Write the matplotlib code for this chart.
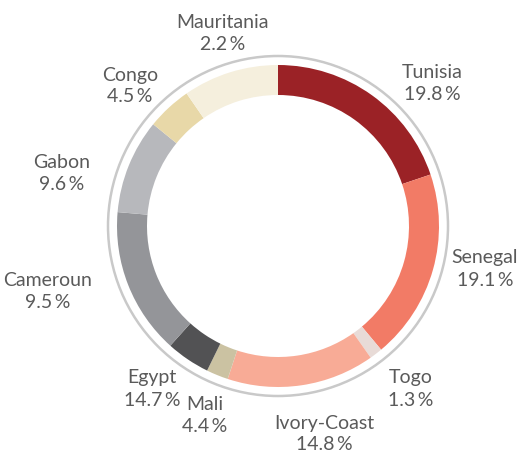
import numpy as np
import matplotlib
matplotlib.use('Agg')
from matplotlib import pyplot as plt
from matplotlib.patches import Circle

# slice sizes, clockwise from 12 o'clock
countries = ['Tunisia', 'Senegal', 'Togo', 'Ivory-Coast', 'Mali', 'Egypt',
             'Cameroun', 'Gabon', 'Congo', 'Mauritania']
shares = [19.8, 19.1, 1.3, 14.8, 2.2, 4.4, 14.7, 9.5, 4.5, 9.6]
colors = ['#9b2226', '#f27b66', '#e8dbd7', '#f8ab96', '#cbc2a2', '#525254',
          '#949599', '#b7b8bc', '#e8d8a8', '#f5efdd']

# label texts as printed on the chart
label_names = ['Mauritania', 'Tunisia', 'Congo', 'Gabon', 'Senegal',
               'Cameroun', 'Egypt', 'Mali', 'Togo', 'Ivory-Coast']
label_pcts = ['2.2\u2009%', '19.8\u2009%', '4.5\u2009%', '9.6\u2009%', '19.1\u2009%',
              '9.5\u2009%', '14.7\u2009%', '4.4\u2009%', '1.3\u2009%', '14.8\u2009%']
# label centres in pixels (x, y of first line)
label_pos = [(223, 22), (432, 72), (130, 75), (62, 163), (485, 258),
             (48, 280), (152, 378), (205, 405), (411, 378), (324, 423)]

W, H = 525, 457
fig = plt.figure(figsize=(W / 100, H / 100), dpi=100)
ax = fig.add_axes([0, 0, 1, 1])
ax.set_xlim(0, W)
ax.set_ylim(0, H)
ax.set_aspect('equal')
ax.axis('off')

cx, cy = 278, H - 226
ax.pie(shares, colors=colors, startangle=90, counterclock=False,
       center=(cx, cy), radius=161,
       wedgeprops=dict(width=30, linewidth=0))
ax.set_xlim(0, W)
ax.set_ylim(0, H)
ax.add_patch(Circle((cx, cy), 170, fill=False, edgecolor='#c9c9c9', linewidth=1.8))

for name, pct, (x, y) in zip(label_names, label_pcts, label_pos):
    ax.text(x, H - y, name, ha='center', va='center', fontsize=14,
            color='#5a5a5a', family=['Lato', 'DejaVu Sans'])
    ax.text(x, H - y - 22, pct, ha='center', va='center', fontsize=14,
            color='#5a5a5a', family=['Lato', 'DejaVu Sans'])

fig.savefig('out.png', dpi=100)
